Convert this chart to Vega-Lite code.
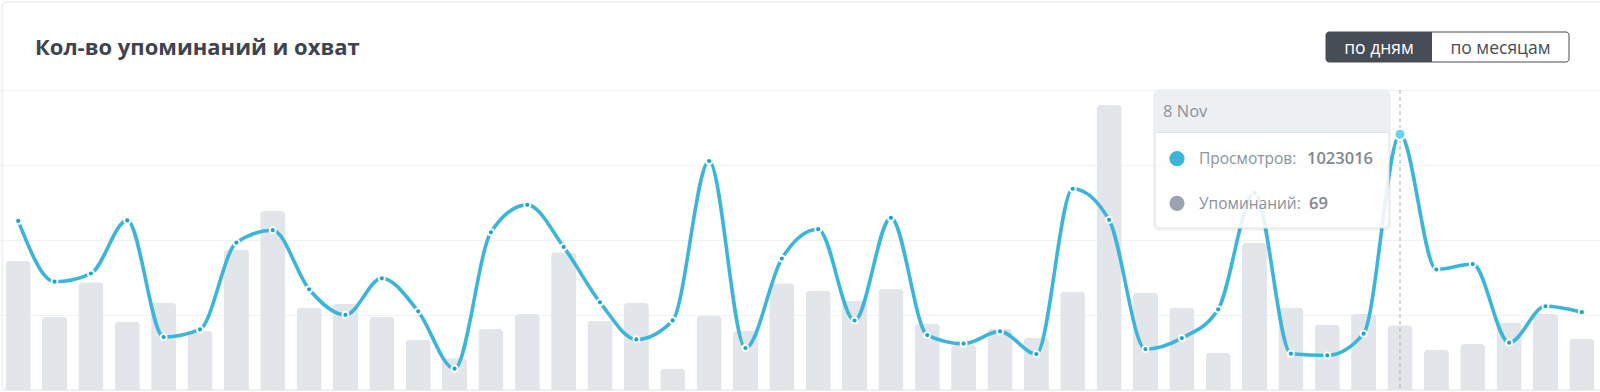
{
  "$schema": "https://vega.github.io/schema/vega-lite/v6.json",
  "width": 1600,
  "height": 300,
  "autosize": {"type": "none"},
  "padding": {"left": 0, "top": 90, "right": 0, "bottom": 2},
  "background": "#ffffff",
  "config": {"view": {"stroke": null}, "font": "Open Sans"},
  "datasets": {
    "daily": [
      {"date": "1 Oct", "views": 676240, "mentions": 138},
      {"date": "2 Oct", "views": 433180, "mentions": 78},
      {"date": "3 Oct", "views": 465920, "mentions": 115},
      {"date": "4 Oct", "views": 678310, "mentions": 73},
      {"date": "5 Oct", "views": 211870, "mentions": 93},
      {"date": "6 Oct", "views": 242450, "mentions": 63},
      {"date": "7 Oct", "views": 589760, "mentions": 150},
      {"date": "8 Oct", "views": 639120, "mentions": 191},
      {"date": "9 Oct", "views": 402980, "mentions": 88},
      {"date": "10 Oct", "views": 300140, "mentions": 92},
      {"date": "11 Oct", "views": 446830, "mentions": 78},
      {"date": "12 Oct", "views": 314670, "mentions": 54},
      {"date": "13 Oct", "views": 85210, "mentions": 34},
      {"date": "14 Oct", "views": 631040, "mentions": 65},
      {"date": "15 Oct", "views": 740560, "mentions": 81},
      {"date": "16 Oct", "views": 572330, "mentions": 147},
      {"date": "17 Oct", "views": 350890, "mentions": 74},
      {"date": "18 Oct", "views": 202410, "mentions": 93},
      {"date": "19 Oct", "views": 278350, "mentions": 23},
      {"date": "20 Oct", "views": 915770, "mentions": 79},
      {"date": "21 Oct", "views": 167940, "mentions": 63},
      {"date": "22 Oct", "views": 525680, "mentions": 114},
      {"date": "23 Oct", "views": 643210, "mentions": 106},
      {"date": "24 Oct", "views": 278020, "mentions": 95},
      {"date": "25 Oct", "views": 688540, "mentions": 108},
      {"date": "26 Oct", "views": 219630, "mentions": 71},
      {"date": "27 Oct", "views": 185120, "mentions": 48},
      {"date": "28 Oct", "views": 234470, "mentions": 65},
      {"date": "29 Oct", "views": 143860, "mentions": 56},
      {"date": "30 Oct", "views": 804930, "mentions": 105},
      {"date": "31 Oct", "views": 680720, "mentions": 304},
      {"date": "1 Nov", "views": 163580, "mentions": 104},
      {"date": "2 Nov", "views": 207640, "mentions": 88},
      {"date": "3 Nov", "views": 322790, "mentions": 40},
      {"date": "4 Nov", "views": 788650, "mentions": 157},
      {"date": "5 Nov", "views": 145310, "mentions": 88},
      {"date": "6 Nov", "views": 138270, "mentions": 70},
      {"date": "7 Nov", "views": 225140, "mentions": 81},
      {"date": "8 Nov", "views": 1023016, "mentions": 69},
      {"date": "9 Nov", "views": 481920, "mentions": 43},
      {"date": "10 Nov", "views": 503870, "mentions": 49},
      {"date": "11 Nov", "views": 189460, "mentions": 72},
      {"date": "12 Nov", "views": 334980, "mentions": 81},
      {"date": "13 Nov", "views": 311250, "mentions": 55}
    ]
  },
  "layer": [
    {
      "data": {"values": [{}]},
      "mark": {"type": "rect", "fillOpacity": 0, "stroke": "#e3e6ea", "strokeWidth": 1, "cornerRadius": 5},
      "encoding": {
        "x": {"value": 2}, "x2": {"value": 1640},
        "y": {"value": -88}, "y2": {"value": 300}
      }
    },
    {
      "data": {"name": "daily"},
      "mark": {"type": "bar", "color": "#e2e5ea", "cornerRadiusTopLeft": 4, "cornerRadiusTopRight": 4},
      "encoding": {
        "x": {"field": "date", "type": "ordinal", "sort": null, "axis": null,
              "scale": {"paddingInner": 0.31, "paddingOuter": 0.155}},
        "y": {"field": "mentions", "type": "quantitative",
              "scale": {"domain": [0, 320], "nice": false},
              "axis": {"values": [0, 80, 160, 240, 320], "grid": true, "gridColor": "#f0f2f5",
                       "domain": false, "ticks": false, "labels": false, "title": null}}
      }
    },
    {
      "data": {"name": "daily"},
      "mark": {"type": "line", "interpolate": "monotone", "color": "#3db5da", "strokeWidth": 3.6},
      "encoding": {
        "x": {"field": "date", "type": "ordinal", "sort": null, "axis": null},
        "y": {"field": "views", "type": "quantitative",
              "scale": {"domain": [0, 1200000], "nice": false}, "axis": null}
      }
    },
    {
      "data": {"name": "daily"},
      "mark": {"type": "point", "filled": true, "fill": "#1aa4d2", "stroke": "#ffffff", "strokeWidth": 1.8, "size": 36, "opacity": 1, "strokeOpacity": 1},
      "encoding": {
        "x": {"field": "date", "type": "ordinal", "sort": null, "axis": null},
        "y": {"field": "views", "type": "quantitative",
              "scale": {"domain": [0, 1200000], "nice": false}, "axis": null}
      }
    },
    {
      "data": {"name": "daily"},
      "transform": [{"filter": "datum.date === '8 Nov'"}],
      "mark": {"type": "rule", "color": "#a9adb3", "strokeWidth": 1, "strokeDash": [4, 3]},
      "encoding": {
        "x": {"field": "date", "type": "ordinal", "sort": null, "axis": null}
      }
    },
    {
      "data": {"name": "daily"},
      "transform": [{"filter": "datum.date === '8 Nov'"}],
      "mark": {"type": "point", "filled": true, "fill": "#5fd6f5", "stroke": "#ffffff", "strokeWidth": 2, "size": 120, "opacity": 1, "strokeOpacity": 1},
      "encoding": {
        "x": {"field": "date", "type": "ordinal", "sort": null, "axis": null},
        "y": {"field": "views", "type": "quantitative",
              "scale": {"domain": [0, 1200000], "nice": false}, "axis": null}
      }
    },
    {
      "data": {"values": [{}]},
      "mark": {"type": "text", "text": "Кол-во упоминаний и охват", "fontSize": 22, "fontWeight": 700, "color": "#3c4450", "align": "left", "baseline": "alphabetic"},
      "encoding": {"x": {"value": 35}, "y": {"value": -35}}
    },
    {
      "data": {"values": [{}]},
      "mark": {"type": "rect", "fill": "#ffffff", "stroke": "#474d57", "strokeWidth": 1, "cornerRadius": 3},
      "encoding": {"x": {"value": 1326}, "x2": {"value": 1569}, "y": {"value": -58}, "y2": {"value": -28}}
    },
    {
      "data": {"values": [{}]},
      "mark": {"type": "rect", "fill": "#474d57", "cornerRadiusTopLeft": 3, "cornerRadiusBottomLeft": 3},
      "encoding": {"x": {"value": 1326}, "x2": {"value": 1432}, "y": {"value": -58}, "y2": {"value": -28}}
    },
    {
      "data": {"values": [{}]},
      "mark": {"type": "text", "text": "по дням", "fontSize": 17.5, "color": "#ffffff", "align": "center", "baseline": "alphabetic"},
      "encoding": {"x": {"value": 1379}, "y": {"value": -36.5}}
    },
    {
      "data": {"values": [{}]},
      "mark": {"type": "text", "text": "по месяцам", "fontSize": 17.5, "color": "#474d57", "align": "center", "baseline": "alphabetic"},
      "encoding": {"x": {"value": 1500.5}, "y": {"value": -36.5}}
    },
    {
      "data": {"values": [{}]},
      "mark": {"type": "rect", "fill": "#000000", "fillOpacity": 0.05, "cornerRadius": 6},
      "encoding": {"x": {"value": 1153}, "x2": {"value": 1391}, "y": {"value": 1}, "y2": {"value": 141}}
    },
    {
      "data": {"values": [{}]},
      "mark": {"type": "rect", "fill": "#ffffff", "fillOpacity": 0.88, "stroke": "#e1e4e8", "strokeWidth": 1, "cornerRadius": 5},
      "encoding": {"x": {"value": 1155}, "x2": {"value": 1389}, "y": {"value": 0}, "y2": {"value": 138}}
    },
    {
      "data": {"values": [{}]},
      "mark": {"type": "rect", "fill": "#eceff2", "fillOpacity": 0.95, "cornerRadiusTopLeft": 5, "cornerRadiusTopRight": 5},
      "encoding": {"x": {"value": 1155.5}, "x2": {"value": 1388.5}, "y": {"value": 0.5}, "y2": {"value": 42}}
    },
    {
      "data": {"values": [{}]},
      "mark": {"type": "rule", "color": "#dde1e6", "strokeWidth": 1},
      "encoding": {"x": {"value": 1155.5}, "x2": {"value": 1388.5}, "y": {"value": 42.5}}
    },
    {
      "data": {"name": "daily"},
      "transform": [{"filter": "datum.date === '8 Nov'"}],
      "mark": {"type": "text", "fontSize": 16.5, "color": "#8a929c", "align": "left", "baseline": "alphabetic"},
      "encoding": {"x": {"value": 1163}, "y": {"value": 27.3}, "text": {"field": "date", "type": "nominal"}}
    },
    {
      "data": {"values": [{}]},
      "mark": {"type": "point", "shape": "circle", "filled": true, "color": "#3bb4d8", "size": 230, "opacity": 1},
      "encoding": {"x": {"value": 1177}, "y": {"value": 68.7}}
    },
    {
      "data": {"values": [{}]},
      "mark": {"type": "point", "shape": "circle", "filled": true, "color": "#9aa3b0", "size": 230, "opacity": 1},
      "encoding": {"x": {"value": 1177}, "y": {"value": 113.3}}
    },
    {
      "data": {"values": [{}]},
      "mark": {"type": "text", "text": "Просмотров:", "fontSize": 15.5, "color": "#8b939e", "align": "left", "baseline": "alphabetic"},
      "encoding": {"x": {"value": 1199}, "y": {"value": 74.3}}
    },
    {
      "data": {"values": [{}]},
      "mark": {"type": "text", "text": "Упоминаний:", "fontSize": 15.5, "color": "#8b939e", "align": "left", "baseline": "alphabetic"},
      "encoding": {"x": {"value": 1199}, "y": {"value": 119.3}}
    },
    {
      "data": {"name": "daily"},
      "transform": [{"filter": "datum.date === '8 Nov'"}],
      "mark": {"type": "text", "fontSize": 16.5, "fontWeight": 600, "color": "#7f8792", "align": "left", "baseline": "alphabetic"},
      "encoding": {"x": {"value": 1307}, "y": {"value": 74.3}, "text": {"field": "views", "type": "quantitative", "format": "d"}}
    },
    {
      "data": {"name": "daily"},
      "transform": [{"filter": "datum.date === '8 Nov'"}],
      "mark": {"type": "text", "fontSize": 16.5, "fontWeight": 600, "color": "#7f8792", "align": "left", "baseline": "alphabetic"},
      "encoding": {"x": {"value": 1309}, "y": {"value": 119.3}, "text": {"field": "mentions", "type": "quantitative", "format": "d"}}
    }
  ],
  "resolve": {"scale": {"y": "independent"}}
}
